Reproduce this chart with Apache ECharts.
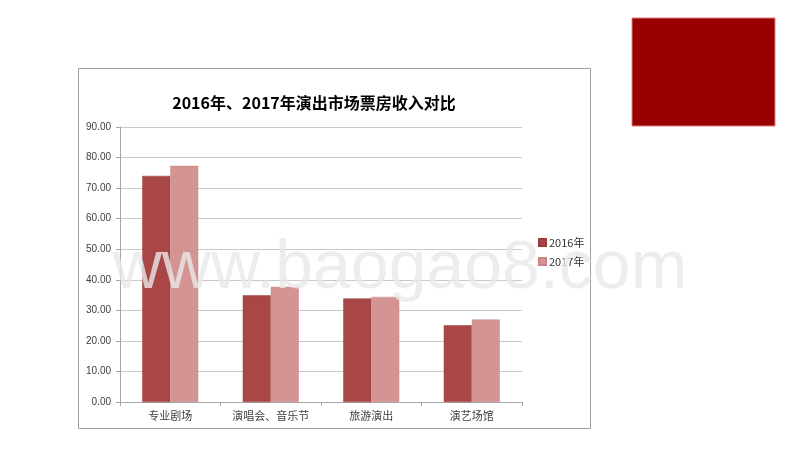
<!DOCTYPE html>
<html>
<head>
<meta charset="utf-8">
<script src="https://cdn.jsdelivr.net/npm/echarts@6/dist/echarts.min.js"></script>
<style>
html,body{margin:0;padding:0;background:#fff;}
#c{width:800px;height:450px;}
</style>
</head>
<body>
<div id="c"></div>
<script>
const categories = ['专业剧场', '演唱会、音乐节', '旅游演出', '演艺场馆'];
const seriesNames = ['2016年', '2017年'];
const values2016 = [74.0, 34.9, 33.9, 25.1];
const values2017 = [77.3, 37.7, 34.4, 27.0];
const titleText = '2016年、2017年演出市场票房收入对比';
const watermarkText = 'www.baogao8.com';

const chart = echarts.init(document.getElementById('c'), null, {renderer: 'canvas'});
const option = {
  animation: false,
  backgroundColor: '#ffffff',
  title: {
    text: titleText,
    left: 309, top: 90, textAlign: 'center',
    textStyle: {fontFamily: '"Noto Sans CJK SC", sans-serif', fontWeight: 'bold', fontSize: 16, color: '#000'}
  },
  legend: {
    orient: 'vertical',
    left: 533, top: 232,
    itemWidth: 7, itemHeight: 7, itemGap: 8, icon: 'rect',
    textStyle: {fontFamily: '"Noto Sans CJK SC", sans-serif', fontSize: 11, color: '#333', padding: [0,0,0,-2]},
    data: seriesNames
  },
  grid: {left: 120, right: 278, top: 127, bottom: 48},
  xAxis: {
    type: 'category',
    data: categories,
    axisLine: {lineStyle: {color: '#a6a6a6'}},
    axisTick: {show: true, lineStyle: {color: '#a6a6a6'}, length: 4},
    axisLabel: {fontFamily: '"Noto Sans CJK SC", serif', fontSize: 11, color: '#404040', margin: 8}
  },
  yAxis: {
    type: 'value', min: 0, max: 90, interval: 10,
    axisLine: {show: true, lineStyle: {color: '#a6a6a6'}},
    axisTick: {show: true, lineStyle: {color: '#a6a6a6'}, length: 4},
    axisLabel: {formatter: v => v.toFixed(2), fontFamily: '"Liberation Sans", Arial, sans-serif', fontSize: 10, color: '#404040', margin: 9},
    splitLine: {lineStyle: {color: '#c8c8c8'}}
  },
  series: [
    {name: seriesNames[0], type: 'bar', data: values2016, barWidth: 28, barGap: '0%',
     itemStyle: {color: '#a94646', borderColor: '#9a3c3c', borderWidth: 0.5}},
    {name: seriesNames[1], type: 'bar', data: values2017, barWidth: 28, barGap: '0%',
     itemStyle: {color: '#d49494', borderColor: '#c98585', borderWidth: 0.5}}
  ],
  graphic: [
    {type: 'rect', z: -10, shape: {x: 78.5, y: 68.5, width: 512, height: 360},
     style: {fill: 'none', stroke: '#a0a0a0', lineWidth: 1}},
    {type: 'rect', z: 10, shape: {x: 632, y: 18, width: 143, height: 108},
     style: {fill: '#990000', stroke: '#e08080', lineWidth: 1}},
    {type: 'text', z: 100, left: 'center', top: 235,
     style: {text: watermarkText, font: '68px "Liberation Sans", Arial, sans-serif',
             fill: 'rgba(232,232,232,0.8)', x: 0, y: 0}}
  ]
};
chart.setOption(option);
</script>
</body>
</html>
